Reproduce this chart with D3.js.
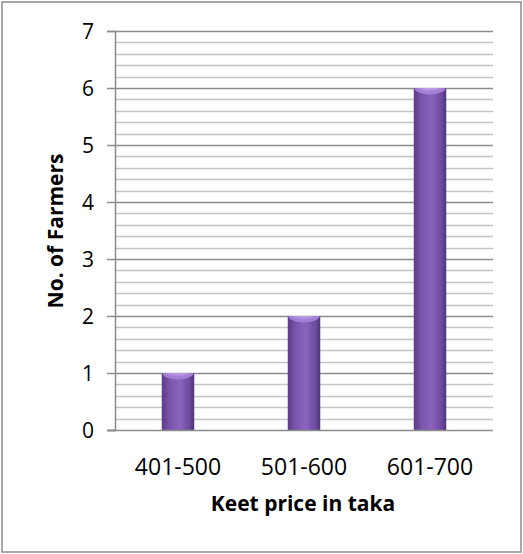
<!DOCTYPE html>
<html>
<head>
<meta charset="utf-8">
<script src="https://cdn.jsdelivr.net/npm/d3@7"></script>
<style>
  body { margin: 0; background: #fff; }
  text { font-family: "Open Sans", sans-serif; fill: #000; }
</style>
</head>
<body>
<svg class="chart" width="523" height="554"></svg>
<script>
// data
var categories = ["401-500", "501-600", "601-700"];
var farmers = [1, 2, 6];
var yTicks = [0, 1, 2, 3, 4, 5, 6, 7];

var plotLeft = 115, plotRight = 493, plotTop = 31, plotBottom = 430;

var svg = d3.select(".chart");

// outer frame
svg.append("rect")
	.attr("x", 2).attr("y", 2)
	.attr("width", 519).attr("height", 550)
	.attr("fill", "none")
	.attr("stroke", "#8c8c8c")
	.attr("stroke-width", 1.5);

var x = d3.scaleBand()
	.domain(categories)
	.range([plotLeft, plotRight]);

var y = d3.scaleLinear()
	.domain([0, 7])
	.range([plotBottom, plotTop]);

// gradient for the cylinder look
var defs = svg.append("defs");
var grad = defs.append("linearGradient").attr("id", "barGrad")
	.attr("x1", "0%").attr("x2", "100%").attr("y1", "0%").attr("y2", "0%");
grad.append("stop").attr("offset", "0%").attr("stop-color", "#5a3b86");
grad.append("stop").attr("offset", "25%").attr("stop-color", "#7a55ad");
grad.append("stop").attr("offset", "55%").attr("stop-color", "#8a63c0");
grad.append("stop").attr("offset", "85%").attr("stop-color", "#6c4a9e");
grad.append("stop").attr("offset", "100%").attr("stop-color", "#4e3275");

var capGrad = defs.append("radialGradient").attr("id", "capGrad")
	.attr("cy", "30%");
capGrad.append("stop").attr("offset", "0%").attr("stop-color", "#dcc2f8");
capGrad.append("stop").attr("offset", "100%").attr("stop-color", "#a37ed6");

// minor gridlines every 0.2
var minor = d3.range(1, 36).map(function(i) { return i / 5; })
	.filter(function(v) { return Math.abs(v - Math.round(v)) > 0.01; });

svg.append("g").selectAll("line")
	.data(minor)
	.enter().append("line")
	.attr("x1", plotLeft).attr("x2", plotRight)
	.attr("y1", function(d) { return Math.round(y(d)) + 0.5; })
	.attr("y2", function(d) { return Math.round(y(d)) + 0.5; })
	.attr("stroke", "#c4c4c4")
	.attr("stroke-width", 1.3);

// major gridlines
svg.append("g").selectAll("line")
	.data(yTicks.slice(1))
	.enter().append("line")
	.attr("x1", plotLeft).attr("x2", plotRight)
	.attr("y1", function(d) { return Math.round(y(d)) + 0.5; })
	.attr("y2", function(d) { return Math.round(y(d)) + 0.5; })
	.attr("stroke", "#8c8c8c")
	.attr("stroke-width", 1.3);

// y axis
var yAxis = svg.append("g")
	.attr("transform", "translate(" + plotLeft + ",0)")
	.call(d3.axisLeft(y).tickValues(yTicks).tickSize(8).tickPadding(13).tickFormat(d3.format("d")));
yAxis.select(".domain").attr("stroke", "#8c8c8c").attr("stroke-width", 1.5);
yAxis.selectAll(".tick line").attr("stroke", "#8c8c8c").attr("stroke-width", 1.5);
yAxis.selectAll(".tick text")
	.style("font-family", "'Open Sans', sans-serif")
	.style("font-size", "21px")
	.attr("fill", "#000")
	.attr("dy", "0.36em");

// bars
var bw = 33;
function barX(i) { return x(categories[i]) + x.bandwidth() / 2 - bw / 2; }

farmers.forEach(function(d, i) {
	defs.append("clipPath").attr("id", "clip" + i)
		.append("rect")
		.attr("x", barX(i))
		.attr("y", y(d))
		.attr("width", bw)
		.attr("height", plotBottom - y(d));
});

var bar = svg.append("g").selectAll("g")
	.data(farmers)
	.enter().append("g")
	.attr("clip-path", function(d, i) { return "url(#clip" + i + ")"; });

bar.append("rect")
	.attr("x", function(d, i) { return barX(i); })
	.attr("y", function(d) { return y(d); })
	.attr("width", bw)
	.attr("height", function(d) { return plotBottom - y(d); })
	.attr("fill", "url(#barGrad)");

// light top face
bar.append("ellipse")
	.attr("cx", function(d, i) { return barX(i) + bw / 2; })
	.attr("cy", function(d) { return y(d); })
	.attr("rx", bw / 2 - 1)
	.attr("ry", 6.5)
	.attr("fill", "url(#capGrad)");

// x axis line
svg.append("line")
	.attr("x1", plotLeft - 8).attr("x2", plotRight)
	.attr("y1", plotBottom + 0.5).attr("y2", plotBottom + 0.5)
	.attr("stroke", "#8c8c8c")
	.attr("stroke-width", 1.5);

// category labels
svg.append("g").selectAll("text")
	.data(categories)
	.enter().append("text")
	.attr("x", function(d) { return x(d) + x.bandwidth() / 2; })
	.attr("y", 475)
	.attr("text-anchor", "middle")
	.style("font-size", "23px")
	.text(function(d) { return d; });

// axis titles
svg.append("text")
	.attr("x", 303)
	.attr("y", 511)
	.attr("text-anchor", "middle")
	.style("font-size", "21px")
	.style("font-weight", "bold")
	.text("Keet price in taka");

svg.append("text")
	.attr("transform", "translate(63,231) rotate(-90)")
	.attr("text-anchor", "middle")
	.style("font-size", "21px")
	.style("font-weight", "bold")
	.text("No. of Farmers");
</script>
</body>
</html>
